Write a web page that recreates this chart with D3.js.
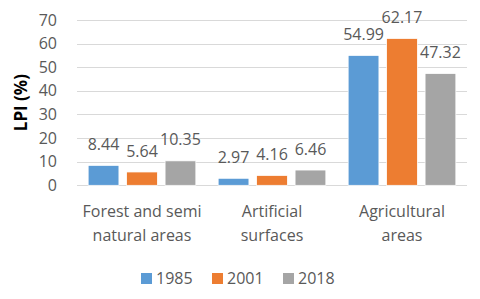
<!DOCTYPE html>
<html>
<head>
<meta charset="utf-8">
<script src="https://cdn.jsdelivr.net/npm/d3@7"></script>
<style>
    body { margin: 0; background: #fff; }
    svg text { font-family: 'Open Sans', sans-serif; fill: #595959; }
</style>
</head>
<body>
<div id="chart"></div>
<script>
const categories = [['Forest and semi', 'natural areas'], ['Artificial', 'surfaces'], ['Agricultural', 'areas']];
const years = ['1985', '2001', '2018'];
const values1985 = [8.44, 2.97, 54.99];
const values2001 = [5.64, 4.16, 62.17];
const values2018 = [10.35, 6.46, 47.32];
const yTicks = [0, 10, 20, 30, 40, 50, 60, 70];
const colors = ['#5B9BD5', '#ED7D31', '#A5A5A5'];

const w = 480;
const h = 299;
const margin = { top: 20, right: 13, bottom: 114, left: 77 };

const series = [values1985, values2001, values2018];
const rows = categories.map((c, i) => ({
    key: i,
    label: c,
    values: series.map((s, j) => ({ year: years[j], value: s[i], idx: j }))
}));

const svg = d3.select('#chart').append('svg')
    .attr('width', w)
    .attr('height', h);

const x0 = d3.scaleBand()
    .domain(rows.map((d) => d.key))
    .range([margin.left, w - margin.right]);

const x1 = d3.scaleBand()
    .domain(d3.range(years.length))
    .range([0, x0.bandwidth()])
    .paddingInner(0.2)
    .paddingOuter(0.29);

const y = d3.scaleLinear()
    .domain([0, 70])
    .range([h - margin.bottom + 0.3, margin.top]);

// gridlines
svg.append('g').attr('class', 'grid')
    .selectAll('line')
    .data(yTicks)
    .enter()
    .append('line')
    .attr('x1', margin.left)
    .attr('x2', w - margin.right)
    .attr('y1', (d) => Math.round(y(d)) + 0.5)
    .attr('y2', (d) => Math.round(y(d)) + 0.5)
    .style('stroke', '#D9D9D9')
    .style('stroke-width', 1);

// y axis labels
const yAxis = svg.append('g')
    .attr('transform', `translate(${margin.left - 20},0)`)
    .call(d3.axisLeft(y).tickValues(yTicks).tickSize(0).tickPadding(0));
yAxis.select('.domain').remove();
yAxis.selectAll('text')
    .style('font-size', '16px')
    .style('fill', '#595959');

svg.append('text')
    .attr('transform', `translate(27,${y(35)}) rotate(-90)`)
    .style('text-anchor', 'middle')
    .style('font-size', '17px')
    .style('font-weight', 'bold')
    .style('fill', '#000')
    .text('LPI (%)');

const group = svg.selectAll('.group')
    .data(rows)
    .enter()
    .append('g')
    .attr('class', 'group')
    .attr('transform', (d) => `translate(${x0(d.key)},0)`);

group.selectAll('rect')
    .data((d) => d.values)
    .enter()
    .append('rect')
    .attr('x', (d) => x1(d.idx))
    .attr('y', (d) => y(d.value))
    .attr('width', x1.bandwidth())
    .attr('height', (d) => y(0) - y(d.value))
    .style('fill', (d) => colors[d.idx])
    .style('stroke', '#fff')
    .style('stroke-width', 0.75);

group.selectAll('.val')
    .data((d) => d.values)
    .enter()
    .append('text')
    .attr('class', 'val')
    .attr('x', (d) => x1(d.idx) + x1.bandwidth() / 2)
    .attr('y', (d) => y(d.value) - 21)
    .attr('dy', '0.35em')
    .style('text-anchor', 'middle')
    .style('font-size', '16px')
    .text((d) => d.value.toFixed(2));

// category labels
group.append('text')
    .attr('x', x0.bandwidth() / 2)
    .attr('y', 211)
    .style('text-anchor', 'middle')
    .style('font-size', '16px')
    .selectAll('tspan')
    .data((d) => d.label)
    .enter()
    .append('tspan')
    .attr('x', x0.bandwidth() / 2)
    .attr('dy', (d, i) => (i === 0 ? '0.35em' : '24px'))
    .text((d) => d);

// legend
const legend = svg.append('g').attr('class', 'legend')
    .selectAll('g')
    .data(years)
    .enter()
    .append('g')
    .attr('transform', (d, i) => `translate(${141 + i * 71},278)`);

legend.append('rect')
    .attr('x', 0)
    .attr('y', -5)
    .attr('width', 11)
    .attr('height', 11)
    .style('fill', (d, i) => colors[i]);

legend.append('text')
    .attr('x', 15)
    .attr('y', 0)
    .attr('dy', '0.35em')
    .style('font-size', '16px')
    .text((d) => d);
</script>
</body>
</html>
